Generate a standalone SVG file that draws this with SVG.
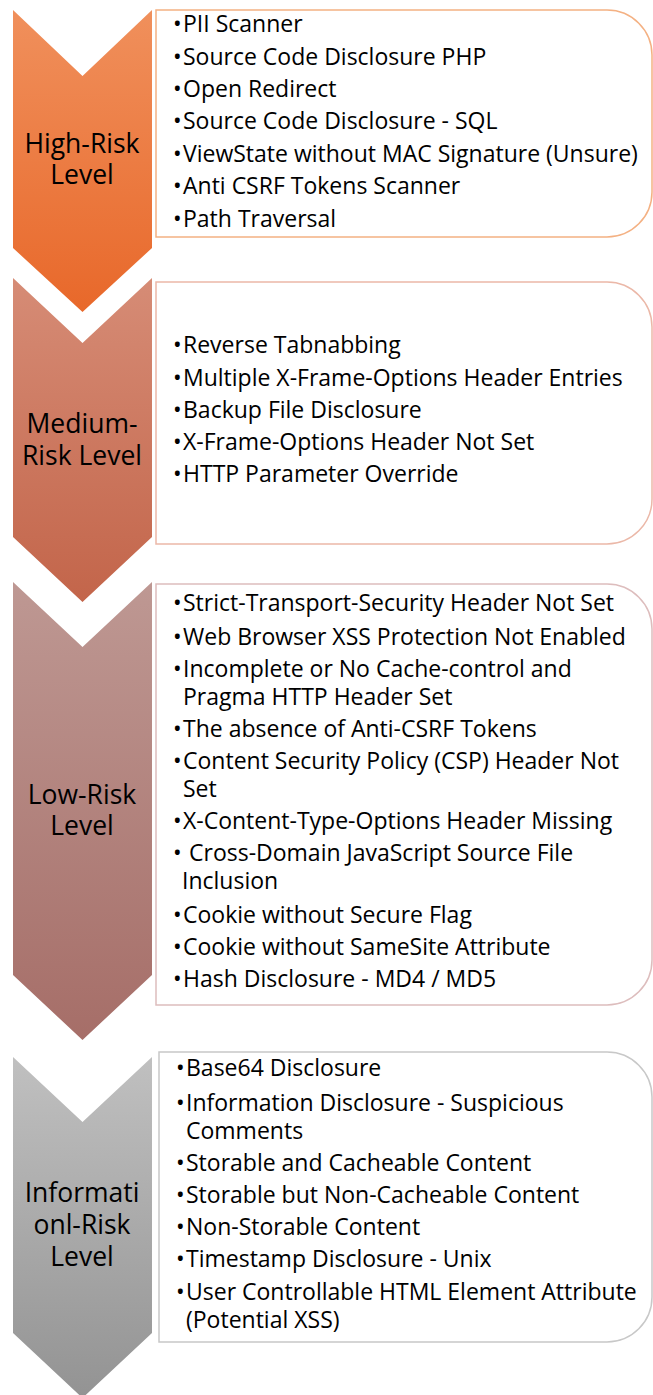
<svg xmlns="http://www.w3.org/2000/svg" width="653" height="1395" viewBox="0 0 653 1395">
  <defs>
    <linearGradient id="gHigh" x1="0" y1="0" x2="0" y2="1">
      <stop offset="0" stop-color="#F0905C"/>
      <stop offset="1" stop-color="#E8682A"/>
    </linearGradient>
    <linearGradient id="gMed" x1="0" y1="0" x2="0" y2="1">
      <stop offset="0" stop-color="#D68C76"/>
      <stop offset="1" stop-color="#C3654A"/>
    </linearGradient>
    <linearGradient id="gLow" x1="0" y1="0" x2="0" y2="1">
      <stop offset="0" stop-color="#BE9893"/>
      <stop offset="1" stop-color="#A66E68"/>
    </linearGradient>
    <linearGradient id="gInfo" x1="0" y1="0" x2="0" y2="1">
      <stop offset="0" stop-color="#C0C0C0"/>
      <stop offset="1" stop-color="#939393"/>
    </linearGradient>
  </defs>
  <style>
    .lbl { font-family: "Open Sans", "Liberation Sans", sans-serif; font-size: 26.5px; fill: #000; text-anchor: middle; }
    .item { font-family: "Open Sans", "Liberation Sans", sans-serif; font-size: 23px; fill: #000; }
    .box { fill: #fff; stroke-width: 1.5; }
  </style>

  <!-- High-risk level -->
  <g id="level-high">
    <polygon points="13,10 82.5,76 152,10 152,248 82.5,312 13,248" fill="url(#gHigh)"/>
    <text class="lbl" x="82" y="153">High-Risk</text>
    <text class="lbl" x="82" y="184">Level</text>
    <path class="box" stroke="#F4B183" d="M156,10 H607 A45,45 0 0 1 652,55 V192 A45,45 0 0 1 607,237 H156 Z"/>
    <text class="item" y="32"><tspan x="173">•</tspan><tspan x="183">PII Scanner</tspan></text>
    <text class="item" y="65"><tspan x="173">•</tspan><tspan x="183">Source Code Disclosure PHP</tspan></text>
    <text class="item" y="97"><tspan x="173">•</tspan><tspan x="183">Open Redirect</tspan></text>
    <text class="item" y="129"><tspan x="173">•</tspan><tspan x="183">Source Code Disclosure - SQL</tspan></text>
    <text class="item" y="162"><tspan x="173">•</tspan><tspan x="183">ViewState without MAC Signature (Unsure)</tspan></text>
    <text class="item" y="194"><tspan x="173">•</tspan><tspan x="183">Anti CSRF Tokens Scanner</tspan></text>
    <text class="item" y="227"><tspan x="173">•</tspan><tspan x="183">Path Traversal</tspan></text>
  </g>

  <!-- Medium-risk level -->
  <g id="level-medium">
    <polygon points="13,278 82.5,343 152,278 152,537 82.5,602 13,537" fill="url(#gMed)"/>
    <text class="lbl" x="82" y="433">Medium-</text>
    <text class="lbl" x="82" y="465">Risk Level</text>
    <path class="box" stroke="#EBB8A8" d="M156,282 H607 A45,45 0 0 1 652,327 V499 A45,45 0 0 1 607,544 H156 Z"/>
    <text class="item" y="353"><tspan x="173">•</tspan><tspan x="183">Reverse Tabnabbing</tspan></text>
    <text class="item" y="386"><tspan x="173">•</tspan><tspan x="183">Multiple X-Frame-Options Header Entries</tspan></text>
    <text class="item" y="418"><tspan x="173">•</tspan><tspan x="183">Backup File Disclosure</tspan></text>
    <text class="item" y="450"><tspan x="173">•</tspan><tspan x="183">X-Frame-Options Header Not Set</tspan></text>
    <text class="item" y="482"><tspan x="173">•</tspan><tspan x="183">HTTP Parameter Override</tspan></text>
  </g>

  <!-- Low-risk level -->
  <g id="level-low">
    <polygon points="13,582 82.5,647 152,582 152,975 82.5,1040 13,975" fill="url(#gLow)"/>
    <text class="lbl" x="82" y="804">Low-Risk</text>
    <text class="lbl" x="82" y="835">Level</text>
    <path class="box" stroke="#DDBDBD" d="M156,584 H607 A45,45 0 0 1 652,629 V960 A45,45 0 0 1 607,1005 H156 Z"/>
    <text class="item" y="611"><tspan x="173">•</tspan><tspan x="183">Strict-Transport-Security Header Not Set</tspan></text>
    <text class="item" y="645"><tspan x="173">•</tspan><tspan x="183">Web Browser XSS Protection Not Enabled</tspan></text>
    <text class="item" y="677"><tspan x="173">•</tspan><tspan x="183">Incomplete or No Cache-control and</tspan></text>
    <text class="item" x="183" y="705">Pragma HTTP Header Set</text>
    <text class="item" y="737"><tspan x="173">•</tspan><tspan x="183">The absence of Anti-CSRF Tokens</tspan></text>
    <text class="item" y="769"><tspan x="173">•</tspan><tspan x="183">Content Security Policy (CSP) Header Not</tspan></text>
    <text class="item" x="183" y="797">Set</text>
    <text class="item" y="829"><tspan x="173">•</tspan><tspan x="183">X-Content-Type-Options Header Missing</tspan></text>
    <text class="item" y="861"><tspan x="173">•</tspan><tspan x="189">Cross-Domain JavaScript Source File</tspan></text>
    <text class="item" x="182" y="889">Inclusion</text>
    <text class="item" y="923"><tspan x="173">•</tspan><tspan x="183">Cookie without Secure Flag</tspan></text>
    <text class="item" y="955"><tspan x="173">•</tspan><tspan x="183">Cookie without SameSite Attribute</tspan></text>
    <text class="item" y="987"><tspan x="173">•</tspan><tspan x="183">Hash Disclosure - MD4 / MD5</tspan></text>
  </g>

  <!-- Informational-risk level -->
  <g id="level-info">
    <polygon points="13,1057 82.5,1122 152,1057 152,1333 82.5,1398 13,1333" fill="url(#gInfo)"/>
    <text class="lbl" x="82" y="1202">Informati</text>
    <text class="lbl" x="82" y="1234">onl-Risk</text>
    <text class="lbl" x="82" y="1266">Level</text>
    <path class="box" stroke="#C8C8C8" d="M159,1052 H607 A45,45 0 0 1 652,1097 V1297 A45,45 0 0 1 607,1342 H159 Z"/>
    <text class="item" y="1076"><tspan x="176">•</tspan><tspan x="186">Base64 Disclosure</tspan></text>
    <text class="item" y="1111"><tspan x="176">•</tspan><tspan x="186">Information Disclosure - Suspicious</tspan></text>
    <text class="item" x="186" y="1139">Comments</text>
    <text class="item" y="1171"><tspan x="176">•</tspan><tspan x="186">Storable and Cacheable Content</tspan></text>
    <text class="item" y="1203"><tspan x="176">•</tspan><tspan x="186">Storable but Non-Cacheable Content</tspan></text>
    <text class="item" y="1235"><tspan x="176">•</tspan><tspan x="186">Non-Storable Content</tspan></text>
    <text class="item" y="1267"><tspan x="176">•</tspan><tspan x="186">Timestamp Disclosure - Unix</tspan></text>
    <text class="item" y="1300"><tspan x="176">•</tspan><tspan x="186">User Controllable HTML Element Attribute</tspan></text>
    <text class="item" x="186" y="1328">(Potential XSS)</text>
  </g>
</svg>
